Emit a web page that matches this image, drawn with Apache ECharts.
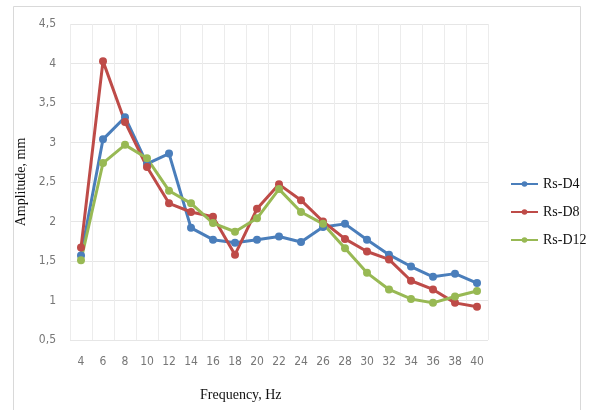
<!DOCTYPE html>
<html>
<head>
<meta charset="utf-8">
<script src="https://cdn.jsdelivr.net/npm/echarts@6/dist/echarts.min.js"></script>
<style>
  html, body { margin: 0; padding: 0; background: #fff; }
  #chart { width: 595px; height: 410px; }
</style>
</head>
<body>
<div id="chart"></div>
<script>
const frequency = ["4", "6", "8", "10", "12", "14", "16", "18", "20", "22", "24", "26", "28", "30", "32", "34", "36", "38", "40"];
const rsD4 = [1.57, 3.04, 3.32, 2.73, 2.86, 1.92, 1.77, 1.73, 1.77, 1.81, 1.74, 1.93, 1.97, 1.77, 1.58, 1.43, 1.3, 1.34, 1.22];
const rsD8 = [1.67, 4.03, 3.26, 2.69, 2.23, 2.12, 2.06, 1.58, 2.16, 2.47, 2.27, 2.0, 1.78, 1.62, 1.52, 1.25, 1.14, 0.97, 0.92];
const rsD12 = [1.51, 2.74, 2.97, 2.8, 2.39, 2.23, 1.98, 1.87, 2.04, 2.41, 2.12, 1.97, 1.66, 1.35, 1.14, 1.02, 0.97, 1.05, 1.12];

const colors = ["#4a7ebb", "#be4b48", "#98b954"];
const tickFont = "'Liberation Sans Narrow', 'DejaVu Sans Condensed', sans-serif";
const serifFont = "'Liberation Serif', 'DejaVu Serif', serif";

const makeSeries = (name, data) => ({
  name: name,
  type: "line",
  data: data,
  symbol: "circle",
  symbolSize: 8,
  lineStyle: { width: 3 },
});

const myChart = echarts.init(document.getElementById("chart"));
const option = {
  color: colors,
  animation: false,
  title: {
    text: "Frequency, Hz",
    left: 195,
    top: 383,
    textStyle: { fontFamily: serifFont, fontSize: 14, fontWeight: "normal", color: "#111" },
  },
  graphic: [
    {
      type: "rect",
      shape: { x: 13.5, y: 6.5, width: 567, height: 410 },
      style: { fill: "none", stroke: "#d9d9d9", lineWidth: 1 },
      silent: true,
    },
  ],
  legend: {
    orient: "vertical",
    left: 505,
    top: 172,
    itemWidth: 27,
    itemHeight: 7,
    itemGap: 14,
    textStyle: { fontFamily: serifFont, fontSize: 14, color: "#111" },
    data: ["Rs-D4", "Rs-D8", "Rs-D12"],
  },
  grid: {
    left: 70,
    right: 107,
    top: 24,
    bottom: 70,
  },
  xAxis: {
    type: "category",
    data: frequency,
    boundaryGap: true,
    axisLine: { show: false },
    axisTick: { show: false },
    axisLabel: { margin: 16, fontFamily: tickFont, fontSize: 12, color: "#777" },
    splitLine: { show: true, interval: 0, lineStyle: { color: "#ececec", width: 1 } },
  },
  yAxis: {
    type: "value",
    min: 0.5,
    max: 4.5,
    interval: 0.5,
    name: "Amplitude, mm",
    nameLocation: "middle",
    nameGap: 34,
    nameTextStyle: { fontFamily: serifFont, fontSize: 14, color: "#111" },
    axisLine: { show: false },
    axisTick: { show: false },
    axisLabel: {
      margin: 14,
      fontFamily: tickFont,
      fontSize: 12,
      color: "#777",
      formatter: (v) => String(v).replace(".", ","),
    },
    splitLine: { lineStyle: { color: "#e6e6e6", width: 1 } },
  },
  series: [
    makeSeries("Rs-D4", rsD4),
    makeSeries("Rs-D8", rsD8),
    makeSeries("Rs-D12", rsD12),
  ],
};
myChart.setOption(option);
</script>
</body>
</html>
